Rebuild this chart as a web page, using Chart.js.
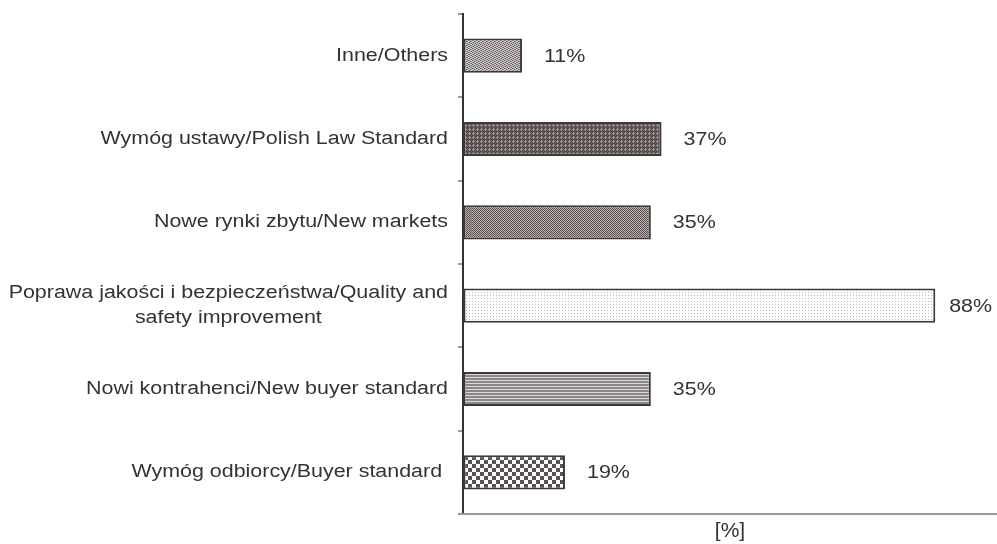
<!DOCTYPE html>
<html>
<head>
<meta charset="utf-8">
<script src="https://cdn.jsdelivr.net/npm/chart.js@4.4.1/dist/chart.umd.min.js"></script>
<style>
  html, body { margin: 0; padding: 0; background: #fff; }
  #wrap { width: 997px; height: 544px; }
</style>
</head>
<body>
<div id="wrap"><canvas id="myChart" width="997" height="544"></canvas></div>
<script>
// categories, top to bottom
const categories = [
    'Inne/Others',
    'Wymóg ustawy/Polish Law Standard',
    'Nowe rynki zbytu/New markets',
    ['Poprawa jakości i bezpieczeństwa/Quality and', 'safety improvement'],
    'Nowi kontrahenci/New buyer standard',
    'Wymóg odbiorcy/Buyer standard '
];
const percentValues = [11, 37, 35, 88, 35, 19];
const axisTitle = '[%]';

const FONT = '"Liberation Sans", Arial, sans-serif';
const TEXT_COLOR = '#333';
const STRETCH = 1.19; // the original text is drawn a bit wide

// little tile patterns, like the old excel fills
function makePattern(w, h, draw) {
    const c = document.createElement('canvas');
    c.width = w;
    c.height = h;
    const g = c.getContext('2d');
    draw(g);
    return document.getElementById('myChart').getContext('2d').createPattern(c, 'repeat');
}

const patterns = [
    // sandy dots
    makePattern(4, 4, function (g) {
        g.fillStyle = '#cfcaca'; g.fillRect(0, 0, 4, 4);
        g.fillStyle = '#645c5c';
        g.fillRect(0, 0, 1, 1); g.fillRect(2, 1, 1, 1); g.fillRect(1, 2, 1, 1); g.fillRect(3, 3, 1, 1);
        g.fillStyle = '#948c8c';
        g.fillRect(1, 0, 1, 1); g.fillRect(3, 1, 1, 1); g.fillRect(2, 3, 1, 1); g.fillRect(0, 2, 1, 1);
    }),
    // dark with light plus dots
    makePattern(4, 4, function (g) {
        g.fillStyle = '#5a4f4f'; g.fillRect(0, 0, 4, 4);
        g.fillStyle = '#9c8f8f';
        g.fillRect(1, 0, 1, 3); g.fillRect(0, 1, 3, 1);
    }),
    // fine checker
    makePattern(2, 2, function (g) {
        g.fillStyle = '#b5aeae'; g.fillRect(0, 0, 2, 2);
        g.fillStyle = '#5e5454';
        g.fillRect(0, 0, 1, 1); g.fillRect(1, 1, 1, 1);
    }),
    // white with sparse grey dots
    makePattern(3, 3, function (g) {
        g.fillStyle = '#ffffff'; g.fillRect(0, 0, 3, 3);
        g.fillStyle = '#bdbdbd';
        g.fillRect(1, 1, 1, 1);
    }),
    // horizontal stripes
    makePattern(1, 3, function (g) {
        g.fillStyle = '#dedada'; g.fillRect(0, 0, 1, 3);
        g.fillStyle = '#8c8686';
        g.fillRect(0, 0, 1, 2);
    }),
    // big checker
    makePattern(8, 8, function (g) {
        g.fillStyle = '#ffffff'; g.fillRect(0, 0, 8, 8);
        g.fillStyle = '#5a5050';
        g.fillRect(0, 0, 4, 4); g.fillRect(4, 4, 4, 4);
    })
];

function wideText(ctx, text, x, y) {
    ctx.save();
    ctx.translate(x, y);
    ctx.scale(STRETCH, 1);
    ctx.fillText(text, 0, 0);
    ctx.restore();
}

// draws value labels and the category labels (multi line ones centred in their block)
const labelPlugin = {
    id: 'labelPlugin',
    afterDraw: function (chart) {
        const ctx = chart.ctx;
        const meta = chart.getDatasetMeta(0);
        const yScale = chart.scales.y;
        ctx.save();
        ctx.fillStyle = TEXT_COLOR;
        ctx.font = '18px ' + FONT;
        ctx.textBaseline = 'middle';
        ctx.textAlign = 'left';
        meta.data.forEach(function (bar, i) {
            const txt = percentValues[i] + '%';
            const w = ctx.measureText(txt).width * STRETCH;
            // keep the label inside the canvas
            const x = Math.min(bar.x + 22, chart.width - 5 - w);
            wideText(ctx, txt, x, bar.y + 1);
        });

        const right = yScale.right - 15;
        const lineH = 25;
        categories.forEach(function (cat, i) {
            const lines = Array.isArray(cat) ? cat : [cat];
            const y = yScale.getPixelForValue(i);
            const blockW = STRETCH * Math.max.apply(null, lines.map(function (l) { return ctx.measureText(l).width; }));
            ctx.textAlign = 'center';
            lines.forEach(function (l, k) {
                const ly = y + (k - (lines.length - 1) / 2) * lineH;
                wideText(ctx, l, right - blockW / 2, ly);
            });
        });
        ctx.restore();
    }
};

new Chart(document.getElementById('myChart'), {
    type: 'bar',
    data: {
        labels: categories,
        datasets: [{
            data: percentValues,
            backgroundColor: patterns,
            borderColor: '#3a3a3a',
            borderWidth: 2,
            borderSkipped: false,
            barPercentage: 0.41,
            categoryPercentage: 1
        }]
    },
    options: {
        indexAxis: 'y',
        responsive: false,
        animation: false,
        devicePixelRatio: 1,
        layout: { padding: { top: 14, left: 0, right: 0, bottom: 0 } },
        plugins: {
            legend: { display: false },
            tooltip: { enabled: false }
        },
        scales: {
            y: {
                type: 'category',
                offset: true,
                grid: {
                    offset: true,
                    drawOnChartArea: false,
                    tickLength: 5,
                    color: '#9a9a9a',
                    lineWidth: 2
                },
                border: { color: '#333', width: 2 },
                ticks: { color: 'transparent', font: { size: 18, family: FONT } },
                afterFit: function (scale) { scale.width = 463; }
            },
            x: {
                min: 0,
                max: 99.5,
                ticks: { display: false },
                grid: { drawOnChartArea: false, drawTicks: false },
                border: { color: '#999', width: 2 },
                title: {
                    display: true,
                    text: axisTitle,
                    color: TEXT_COLOR,
                    font: { size: 21, family: FONT },
                    padding: { top: 2, bottom: 0 }
                },
                afterFit: function (scale) { scale.height = 30; }
            }
        }
    },
    plugins: [labelPlugin]
});
</script>
</body>
</html>
